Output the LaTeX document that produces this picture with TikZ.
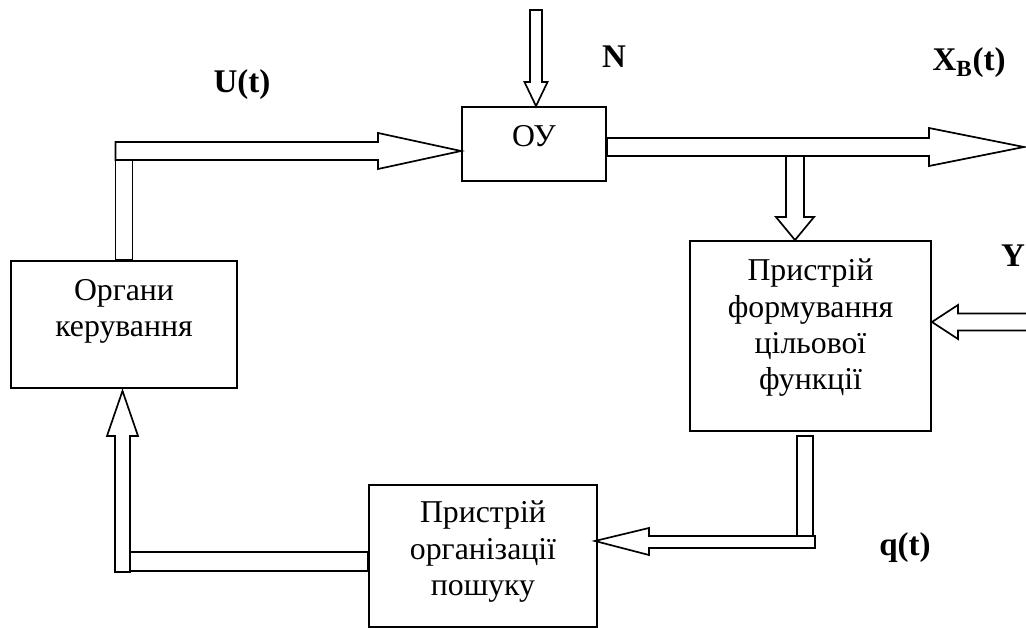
\documentclass[tikz,border=0pt]{standalone}
\usepackage{fontspec}
\setmainfont{Liberation Serif}
\usetikzlibrary{positioning, calc}
\tikzset{
	unitbox/.style={rectangle, draw, line width=1.3pt, inner sep=0pt},
	boxtext/.style={align=center, inner sep=0pt, font=\fontsize{22.6}{25.8}\selectfont},
	sig/.style={font=\fontsize{23.5}{26}\selectfont\bfseries},
	hollow/.style={draw, fill=white, line width=1.2pt}
}

\begin{document}
\begin{tikzpicture}[x=0.025cm, y=-0.025cm]
	\useasboundingbox (0,0) rectangle (1026,628);

	\node[unitbox, minimum width=3.6cm, minimum height=1.85cm] (ou) at (534,144) {};
	\node[unitbox, minimum width=5.65cm, minimum height=3.175cm] (org) at (124,324.5) {};
	\node[unitbox, minimum width=6.025cm, minimum height=4.75cm] (form) at (810.5,336) {};
	\node[unitbox, minimum width=5.7cm, minimum height=3.55cm] (search) at (483,556) {};

	\node[boxtext, below=0.47cm of ou.north] (ou-text) {ОУ};
	\node[boxtext, below=0.47cm of org.north] (org-text) {Органи\\керування};
	\node[boxtext, below=0.47cm of form.north] (form-text) {Пристрій\\формування\\цільової\\функції};
	\node[boxtext, below=0.42cm of search.north] (search-text) {Пристрій\\організації\\пошуку};

	\node[sig] (u-lbl) at (242,85) {U(t)};
	\node[sig] (n-lbl) at (614,57) {N};
	\node[sig] (xb-lbl) at (969,63) {X\textsubscript{B}(t)};
	\node[sig] (y-lbl) at (1013,256) {Y};
	\node[sig] (q-lbl) at (905,548) {q(t)};

	% control -> object
	\coordinate (u-tip) at ($(ou.west)+(0,7)$);
	\draw[hollow] ($(org.north)+(-8.5,0)$) rectangle ($(org.north |- u-tip)+(8.5,9)$);
	\draw[hollow] ($(org.north |- u-tip)+(-8.5,-9)$) -- ($(u-tip)+(-83,-9)$) -- ++(0,-9) -- (u-tip)
		-- ($(u-tip)+(-83,18)$) -- ++(0,-9) -- ($(org.north |- u-tip)+(-8.5,9)$) -- cycle;

	% disturbance
	\coordinate (n-top) at (536,10);
	\coordinate (n-tip) at ($(ou.north)+(2,0)$);
	\draw[hollow] (n-tip) -- ++(-11.5,-24) -- ++(5.5,0) -- ($(n-top)+(-6,0)$) -- ($(n-top)+(6,0)$)
		-- ($(n-tip)+(6,-24)$) -- ++(5.5,0) -- cycle;

	% output
	\coordinate (xb-tip) at (1024,147);
	\draw[hollow] ($(ou.east |- xb-tip)+(0,-9)$) -- ($(xb-tip)+(-95,-9)$) -- ++(0,-10) -- (xb-tip)
		-- ($(xb-tip)+(-95,19)$) -- ++(0,-10) -- ($(ou.east |- xb-tip)+(0,9)$) -- cycle;

	\coordinate (br-tip) at ($(form.north)+(-15.5,0)$);
	\draw[hollow] (br-tip) -- ++(-19,-23) -- ++(10,0) -- ($(br-tip |- xb-tip)+(-9,9)$) -- ++(18,0)
		-- ($(br-tip)+(9,-23)$) -- ++(10,0) -- cycle;

	% Y input
	\coordinate (y-tip) at ($(form.east)+(0,-14)$);
	\coordinate (y-tail) at ($(y-tip)+(100,0)$);
	\draw[hollow] ($(y-tail)+(0,-8.5)$) -- ($(y-tip)+(26,-8.5)$) -- ++(0,-8.5) -- (y-tip)
		-- ($(y-tip)+(26,17)$) -- ++(0,-8.5) -- ($(y-tail)+(0,8.5)$);

	% q(t)
	\coordinate (q-tip) at ($(search.east)+(-3,-15)$);
	\draw[hollow] ($(form.south)+(-13.5,4)$) rectangle ($(form.south |- q-tip)+(2.5,-5)$);
	\draw[hollow] ($(form.south |- q-tip)+(4.5,-5)$) -- ($(q-tip)+(54,-5)$) -- ++(0,-8) -- (q-tip)
		-- ($(q-tip)+(54,14)$) -- ++(0,-7) -- ($(form.south |- q-tip)+(4.5,7)$) -- cycle;

	% search -> control
	\coordinate (l-tip) at ($(org.south)+(-1.5,2)$);
	\draw[hollow] ($(search.west)+(0,-4)$) rectangle ($(l-tip |- search.west)+(7.5,15)$);
	\draw[hollow] (l-tip) -- ++(-15.5,45) -- ++(8,0) -- ($(l-tip |- search.west)+(-7.5,16)$) -- ++(15,0)
		-- ($(l-tip)+(7.5,45)$) -- ++(8,0) -- cycle;
\end{tikzpicture}
\end{document}
